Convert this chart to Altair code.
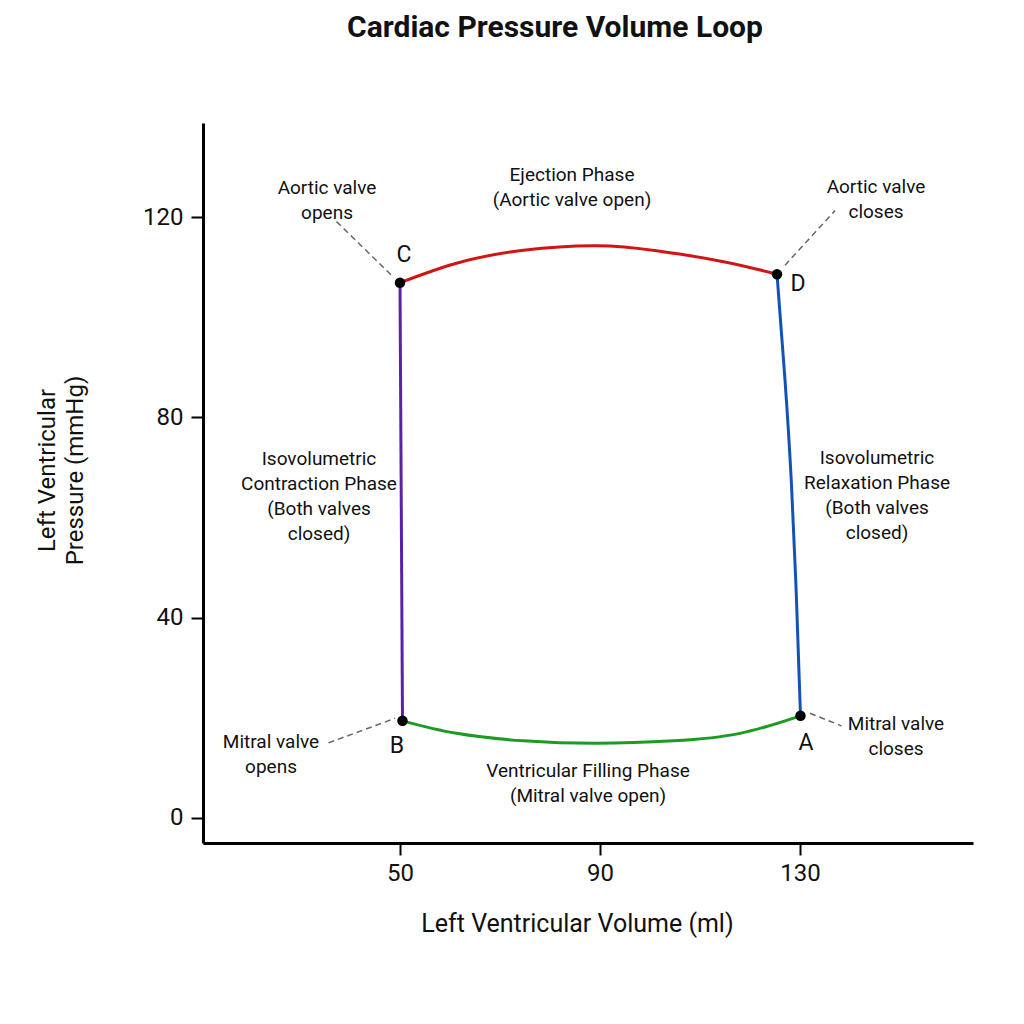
import altair as alt
import pandas as pd

FONT = "Roboto"

# ---- curve data (volume ml, pressure mmHg) ----
eject_vol = [50.0, 61.3, 74.7, 89.3, 101.3, 114.7, 125.4]
eject_p = [106.9, 110.8, 113.4, 114.3, 113.3, 111.1, 108.6]

relax_vol = [125.4, 127.0, 128.3, 129.3, 130.1]
relax_p = [108.6, 87.5, 66.5, 43.5, 20.4]

fill_vol = [50.5, 61.3, 74.7, 89.3, 104.7, 118.0, 130.1]
fill_p = [19.4, 16.9, 15.4, 14.9, 15.4, 16.9, 20.4]

contr_vol = [50.5, 50.0]
contr_p = [19.4, 106.9]

seg_names = ["Ejection", "Relaxation", "Filling", "Contraction"]
seg_colors = ["#d41414", "#1552b8", "#1c9a22", "#5a22a6"]

# ---- key points ----
pt_names = ["A", "B", "C", "D"]
pt_vol = [130.1, 50.5, 50.0, 125.4]
pt_p = [20.4, 19.4, 106.9, 108.6]
lbl_vol = [131.2, 49.4, 50.8, 129.6]
lbl_p = [15.0, 14.4, 112.4, 106.7]

# ---- annotations (position = first line) ----
ann_text = [
    "Aortic valve\nopens",
    "Aortic valve\ncloses",
    "Mitral valve\nopens",
    "Mitral valve\ncloses",
    "Ejection Phase\n(Aortic valve open)",
    "Isovolumetric\nContraction Phase\n(Both valves\nclosed)",
    "Isovolumetric\nRelaxation Phase\n(Both valves\nclosed)",
    "Ventricular Filling Phase\n(Mitral valve open)",
]
ann_vol = [35.4, 145.2, 24.2, 149.2, 84.4, 33.8, 145.4, 87.6]
ann_p = [125.8, 126.0, 15.2, 18.8, 128.4, 71.7, 71.9, 9.4]

# ---- dashed leaders ----
lead_id = ["ao", "ao", "ac", "ac", "mo", "mo", "mc", "mc"]
lead_vol = [37.3, 48.3, 137.0, 127.0, 35.7, 49.0, 132.0, 138.3]
lead_p = [119.1, 108.4, 121.3, 110.4, 15.0, 19.9, 20.9, 18.4]

x_ticks = [50, 90, 130]
y_ticks = [0, 40, 80, 120]
x_domain = [10.6, 164.6]
y_domain = [-5, 138.8]

rows = []
for name, vs, ps in [("Ejection", eject_vol, eject_p), ("Relaxation", relax_vol, relax_p),
                     ("Filling", fill_vol, fill_p), ("Contraction", contr_vol, contr_p)]:
    for i, (v, p) in enumerate(zip(vs, ps)):
        rows.append({"seg": name, "vol": v, "p": p, "o": i})
lines_df = pd.DataFrame(rows)
pts_df = pd.DataFrame({"name": pt_names, "vol": pt_vol, "p": pt_p, "lv": lbl_vol, "lp": lbl_p})
ann_df = pd.DataFrame({"t": ann_text, "vol": ann_vol, "p": ann_p})
lead_df = pd.DataFrame({"id": lead_id, "vol": lead_vol, "p": lead_p})

xs = alt.Scale(domain=x_domain, nice=False, zero=False)
ys = alt.Scale(domain=y_domain, nice=False, zero=False)

x_axis = alt.Axis(values=x_ticks, title="Left Ventricular Volume (ml)", grid=False,
                  labelFontSize=24, titleFontSize=25, titleFontWeight="normal",
                  labelFont=FONT, titleFont=FONT, labelColor="#111", titleColor="#111",
                  domainWidth=3, domainColor="#000", tickWidth=2, tickColor="#000",
                  tickSize=12, labelPadding=6, titlePadding=26, titleX=374)
y_axis = alt.Axis(values=y_ticks, title=["Left Ventricular", "Pressure (mmHg)"], grid=False,
                  labelFontSize=24, titleFontSize=24, titleFontWeight="normal",
                  labelFont=FONT, titleFont=FONT, labelColor="#111", titleColor="#111",
                  domainWidth=3, domainColor="#000", tickWidth=2, tickColor="#000",
                  tickSize=12, labelPadding=8, titlePadding=55, titleLineHeight=28,
                  titleY=347)

base_x = alt.X("vol:Q", scale=xs, axis=x_axis)
base_y = alt.Y("p:Q", scale=ys, axis=y_axis)

lines = alt.Chart(lines_df).mark_line(strokeWidth=3, interpolate="natural").encode(
    x=base_x, y=base_y,
    color=alt.Color("seg:N", scale=alt.Scale(domain=seg_names, range=seg_colors), legend=None),
    detail="seg:N", order="o:Q",
)

leads = alt.Chart(lead_df).mark_line(strokeWidth=1.5, strokeDash=[6, 4], color="#666").encode(
    x=alt.X("vol:Q", scale=xs), y=alt.Y("p:Q", scale=ys), detail="id:N"
)

points = alt.Chart(pts_df).mark_circle(size=110, color="#000", opacity=1).encode(
    x=alt.X("vol:Q", scale=xs), y=alt.Y("p:Q", scale=ys)
)

pt_labels = alt.Chart(pts_df).mark_text(fontSize=23, font=FONT, color="#111",
                                         baseline="middle", align="center").encode(
    x=alt.X("lv:Q", scale=xs), y=alt.Y("lp:Q", scale=ys), text="name:N"
)

anns = alt.Chart(ann_df).mark_text(fontSize=19, font=FONT, color="#111", lineBreak="\n",
                                    lineHeight=25, baseline="middle", align="center").encode(
    x=alt.X("vol:Q", scale=xs), y=alt.Y("p:Q", scale=ys), text="t:N"
)

chart = alt.layer(lines, leads, points, pt_labels, anns).properties(
    width=770, height=720,
    autosize=alt.AutoSizeParams(type="none"),
    padding={"left": 203, "top": 123, "right": 51, "bottom": 181},
    title=alt.TitleParams("Cardiac Pressure Volume Loop", fontSize=30, font=FONT,
                          fontWeight="bold", color="#111", anchor="middle",
                          dx=-33, offset=80),
    background="white",
).configure_view(stroke=None)

chart.save("out.html", embed_options={"renderer": "svg", "actions": False})
